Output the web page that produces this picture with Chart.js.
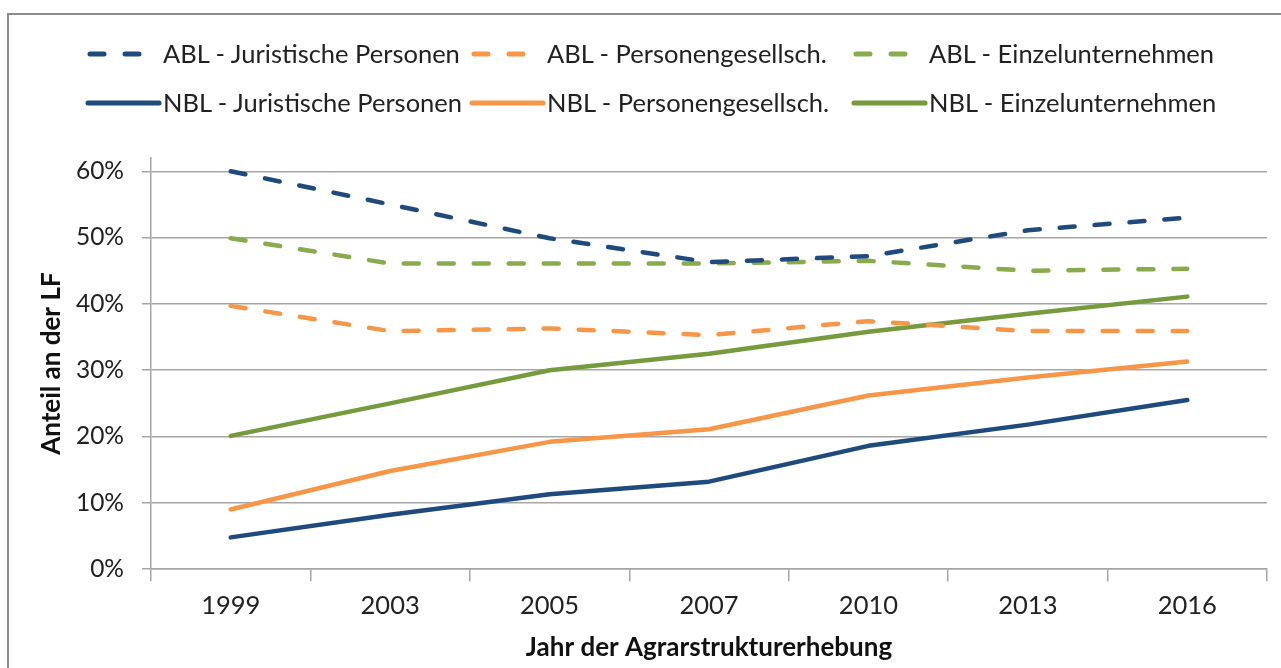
<!DOCTYPE html>
<html>
<head>
<meta charset="utf-8">
<script src="https://cdn.jsdelivr.net/npm/chart.js@4"></script>
<style>
  html, body { margin: 0; padding: 0; background: #fff; }
  body { width: 1281px; height: 668px; position: relative; overflow: hidden; font-family: Lato, sans-serif; }
  #frame { position: absolute; left: 7px; top: 13px; width: 1300px; height: 700px; border: 2px solid #8c8c8c; box-sizing: border-box; }
  #wrap { position: absolute; left: 0; top: 0; width: 1281px; height: 668px; }
  .sw { position: absolute; }
  .lt { position: absolute; font-size: 25.5px; line-height: 32px; color: #222; white-space: nowrap; }
</style>
</head>
<body>
<div id="frame"></div>
<div id="wrap"><canvas id="chart" width="1281" height="668"></canvas></div>
<div id="legend"></div>
<script>
// categories (year of the survey)
const years = ["1999", "2003", "2005", "2007", "2010", "2013", "2016"];

// share of agricultural land in percent
const ablJuristisch = [60.0, 55.0, 49.9, 46.3, 47.2, 51.1, 53.0];
const ablPersonen = [39.7, 35.9, 36.3, 35.3, 37.4, 35.9, 35.9];
const ablEinzel = [49.9, 46.1, 46.1, 46.1, 46.5, 45.0, 45.3];
const nblJuristisch = [4.8, 8.2, 11.3, 13.2, 18.6, 21.8, 25.5];
const nblPersonen = [9.0, 14.8, 19.2, 21.1, 26.2, 28.9, 31.3];
const nblEinzel = [20.1, 25.0, 30.0, 32.5, 35.8, 38.5, 41.1];

const seriesLabels = [
  "ABL - Juristische Personen", "ABL - Personengesellsch.", "ABL - Einzelunternehmen",
  "NBL - Juristische Personen", "NBL - Personengesellsch.", "NBL - Einzelunternehmen"
];
const yTicks = [0, 10, 20, 30, 40, 50, 60];

const NAVY = "#1f4a7e", ORANGE = "#f79646", GREEN_D = "#8aab4c", GREEN_S = "#779a3c";
const DASH = [15, 20];

function line(label, data, color, dashed){
  return {
    label, data,
    borderColor: color,
    backgroundColor: color,
    borderWidth: 4.5,
    borderDash: dashed ? DASH : [],
    borderCapStyle: "round",
    borderJoinStyle: "round",
    pointRadius: 0,
    tension: 0,
    fill: false
  };
}

const datasets = [
  line(seriesLabels[0], ablJuristisch, NAVY, true),
  line(seriesLabels[1], ablPersonen, ORANGE, true),
  line(seriesLabels[2], ablEinzel, GREEN_D, true),
  line(seriesLabels[3], nblJuristisch, NAVY, false),
  line(seriesLabels[4], nblPersonen, ORANGE, false),
  line(seriesLabels[5], nblEinzel, GREEN_S, false)
];

// html legend, 3 columns x 2 rows
function buildLegend(){
  const el = document.getElementById("legend");
  const textX = [163, 547, 929];
  const rowY = [54, 103];
  datasets.forEach((ds, i) => {
    const col = i % 3, row = Math.floor(i / 3);
    const dashed = ds.borderDash.length > 0;
    const sw = document.createElement("div");
    sw.className = "sw";
    sw.style.left = (textX[col] - 78) + "px";
    sw.style.top = (rowY[row] - 8) + "px";
    sw.innerHTML = dashed
      ? `<svg width="80" height="16"><line x1="5" y1="8" x2="55" y2="8" stroke="${ds.borderColor}" stroke-width="5" stroke-linecap="round" stroke-dasharray="14 21"/></svg>`
      : `<svg width="80" height="16"><line x1="3" y1="8" x2="74" y2="8" stroke="${ds.borderColor}" stroke-width="5" stroke-linecap="round"/></svg>`;
    el.appendChild(sw);
    const t = document.createElement("div");
    t.className = "lt";
    t.style.left = textX[col] + "px";
    t.style.top = (rowY[row] - 17) + "px";
    t.textContent = ds.label;
    el.appendChild(t);
  });
}

const ctx = document.getElementById("chart").getContext("2d");
new Chart(ctx, {
  type: "line",
  data: { labels: years, datasets },
  options: {
    responsive: false,
    animation: false,
    events: [],
    layout: { padding: { top: 158, right: 14, bottom: 5, left: 20 } },
    plugins: { legend: { display: false }, tooltip: { enabled: false } },
    scales: {
      x: {
        offset: true,
        grid: { drawOnChartArea: false, offset: true, tickLength: 12, color: "#a6a6a6", lineWidth: 1.5 },
        border: { color: "#a6a6a6", width: 1.5 },
        ticks: { color: "#222", font: { family: "Lato", size: 25.5 }, padding: 9 },
        title: { display: true, text: "Jahr der Agrarstrukturerhebung", color: "#111", font: { family: "Lato", size: 26, weight: "bold" }, padding: { top: 2, bottom: 0 } }
      },
      y: {
        min: 0,
        max: 62,
        afterBuildTicks: axis => { axis.ticks = yTicks.map(v => ({ value: v })); },
        afterFit: axis => { axis.width = 131; },
        grid: { color: "#a6a6a6", lineWidth: 1.5, tickLength: 9 },
        border: { color: "#a6a6a6", width: 1.5 },
        ticks: { color: "#222", font: { family: "Lato", size: 24.5 }, padding: 18, callback: v => v + "%" },
        title: { display: true, text: "Anteil an der LF", color: "#111", font: { family: "Lato", size: 26, weight: "bold" }, padding: { top: 16, bottom: 0 } }
      }
    }
  }
});
buildLegend();
</script>
</body>
</html>
